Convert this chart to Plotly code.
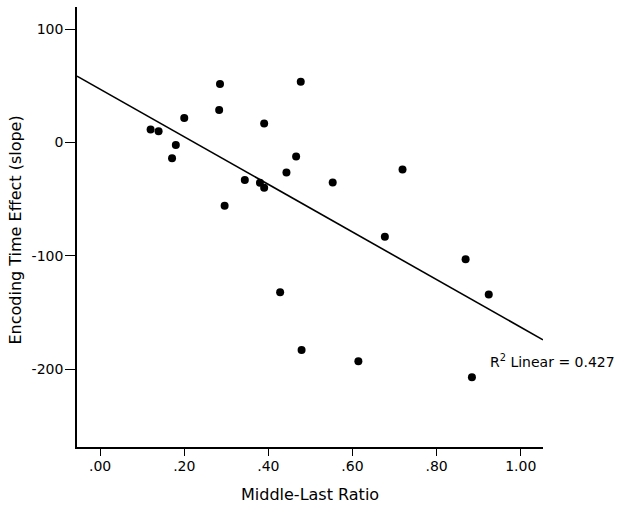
import numpy as np
import plotly.graph_objects as go

# Data
ratio = [0.120, 0.139, 0.171, 0.180, 0.200, 0.285, 0.283, 0.296, 0.344, 0.380,
         0.390, 0.390, 0.443, 0.466, 0.477, 0.553, 0.719, 0.677, 0.428, 0.479,
         0.869, 0.924, 0.614, 0.884]
slope = [11.6, 9.9, -13.7, -2.2, 21.6, 51.6, 28.7, -55.8, -33.1, -35.5,
         -39.9, 16.9, -26.3, -12.2, 53.7, -35.1, -23.7, -83.1, -131.9, -182.9,
         -102.8, -134.0, -192.8, -207.0]
x_ticks = [0.0, 0.2, 0.4, 0.6, 0.8, 1.0]
x_labels = [".00", ".20", ".40", ".60", ".80", "1.00"]
y_ticks = [100, 0, -100, -200]
y_labels = ["100", "0", "-100", "-200"]
x_title = "Middle-Last Ratio"
y_title = "Encoding Time Effect (slope)"
r2_text = "R<sup>2</sup> Linear = 0.427"

x_range = [-0.055, 1.053]
y_range = [-268.5, 119.6]

b, a = np.polyfit(ratio, slope, 1)
fit_x = np.array(x_range)
fit_y = a + b * fit_x

FAM = "DejaVu Sans, Arial, sans-serif"
tick_font = dict(family=FAM, size=14, color="black")
title_font = dict(family=FAM, size=16, color="black")

fig = go.Figure()
fig.add_trace(go.Scatter(x=fit_x, y=fit_y, mode="lines",
                         line=dict(color="black", width=1.6), showlegend=False,
                         hoverinfo="skip"))
fig.add_trace(go.Scatter(x=ratio, y=slope, mode="markers",
                         marker=dict(color="black", size=8), showlegend=False))

fig.add_annotation(x=0.9216, y=-192.9, text=r2_text, showarrow=False,
                   xanchor="left", yanchor="middle",
                   font=dict(family=FAM, size=14, color="black"))
fig.add_annotation(xref="paper", yref="paper", x=0.5, y=-0.109, text=x_title,
                   showarrow=False, xanchor="center", yanchor="middle",
                   font=title_font)
fig.add_annotation(xref="paper", yref="paper", x=-0.133, y=0.492, text=y_title,
                   showarrow=False, xanchor="center", yanchor="middle",
                   textangle=-90, font=title_font)

fig.update_layout(
    width=624, height=508,
    margin=dict(l=77, r=81, t=7, b=61),
    paper_bgcolor="white", plot_bgcolor="white",
    font=tick_font,
    xaxis=dict(range=x_range, tickvals=x_ticks, ticktext=x_labels,
               showgrid=False, zeroline=False, showline=True, linecolor="black",
               linewidth=1.6, ticks="outside", ticklen=7, tickcolor="black",
               tickwidth=1, automargin=False, tickfont=tick_font,
               ticklabelstandoff=-2),
    yaxis=dict(range=y_range, tickvals=y_ticks, ticktext=y_labels,
               showgrid=False, zeroline=False, showline=True, linecolor="black",
               linewidth=1.6, ticks="outside", ticklen=10, tickcolor="black",
               tickwidth=1, automargin=False, tickfont=tick_font,
               ticklabelstandoff=-1),
)

fig.write_html("out.html", config={"displayModeBar": False},
               post_script="document.body.style.margin='0';")
